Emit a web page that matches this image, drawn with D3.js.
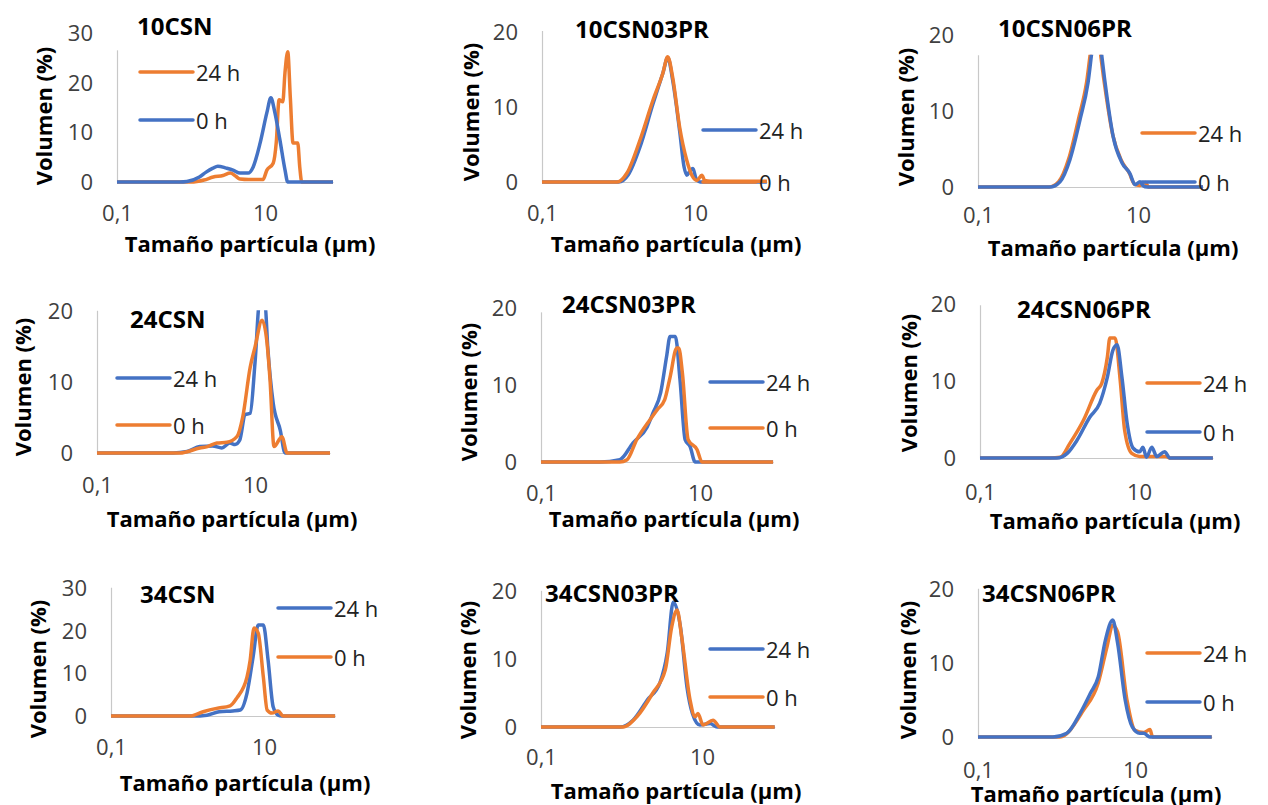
<!DOCTYPE html>
<html>
<head>
<meta charset="utf-8">
<script src="https://cdn.jsdelivr.net/npm/d3@7"></script>
<style>
  body { margin: 0; background: #fff; }
  text { font-family: "Open Sans", "DejaVu Sans", sans-serif; }
</style>
</head>
<body>
<div id="chart"></div>
<script>
// particle size (um) vs volume (%)
const csn10_24h = [[0.1,0],[1.0,0],[1.5,0.4],[2.0,1.0],[2.7,1.3],[3.4,1.8],[4.0,1.2],[4.6,0.6],[6,0.5],[9.4,0.5],[10.6,2.4],[12.9,3.8],[14.2,8],[15.5,16.6],[17.4,16.2],[18.6,22],[20.3,26.3],[22,17],[23.9,7.9],[27.7,7.9],[29.5,3],[31.4,0],[83,0]];
const csn10_0h = [[0.1,0],[0.71,0],[0.88,0.1],[1.3,1.0],[1.6,2.0],[1.98,2.8],[2.3,3.2],[3.0,2.8],[3.7,2.4],[4.6,1.8],[5.9,1.8],[6.9,3.0],[8.6,7.9],[10.6,14],[12.0,17.0],[13.6,14],[15.9,8.5],[18.6,2.5],[20.3,0],[83,0]];

const csn10pr03_24h = [[0.1,0],[1.0,0],[1.35,1.0],[1.9,4.6],[2.8,10.3],[3.8,14.5],[4.4,16.6],[5.1,13.6],[6.3,6.8],[7.2,2.0],[7.8,0.9],[8.6,1.5],[9.4,1.8],[10.3,0.5],[11.7,0],[87,0]];
const csn10pr03_0h = [[0.1,0],[0.96,0],[1.29,1.2],[1.91,5.6],[2.82,10.9],[3.8,14.5],[4.4,16.7],[5.1,14.0],[6.3,7.3],[7.8,2.9],[9.2,0.8],[10.6,0.2],[12.3,0.9],[13.4,0.2],[16,0.1],[87,0.1]];

const csn10pr06_24h = [[0.1,0],[0.77,0],[1.02,0.7],[1.36,3.7],[1.8,8.9],[2.28,13.8],[2.65,19],[2.9,21],[3.2,20],[3.45,17],[4.0,12],[4.8,7],[6.2,3.5],[7.8,1.8],[9.0,0.4],[10.5,0.2],[12.4,0.6],[13.5,0],[65,0]];
const csn10pr06_0h = [[0.1,0],[0.79,0],[1.06,0.7],[1.41,3.6],[1.88,8.8],[2.37,13.7],[2.75,19],[3.0,21],[3.3,20],[3.55,17],[4.1,11.8],[4.9,6.6],[6.3,3.2],[7.9,1.8],[9.2,0.3],[10.6,0.7],[11.5,0.2],[13,0],[65,0]];

const csn24_24h = [[0.1,0],[0.92,0],[1.38,0.2],[2.0,0.9],[2.9,1.0],[3.8,0.7],[4.8,1.4],[5.6,1.2],[6.4,1.8],[7.5,5.4],[8.7,5.6],[10,12.7],[11.5,21.5],[13.4,21],[14.5,14.9],[17,7.0],[20.9,3.2],[24,0],[89,0]];
const csn24_0h = [[0.1,0],[1.12,0],[2.0,0.7],[2.5,0.9],[3.3,1.4],[4.4,1.5],[5.9,2.3],[7.0,5.1],[8.7,12.1],[10,14.9],[12.3,18.7],[14.2,15.5],[15.5,10.3],[17.4,0.9],[21.9,2.3],[25.5,0],[89,0]];

const csn24pr03_24h = [[0.1,0],[0.55,0],[0.98,0.3],[1.44,2.5],[2.15,4.5],[2.57,6.4],[3.2,9.0],[3.8,13.7],[4.2,16.3],[4.9,16.3],[5.6,10.7],[6.5,2.9],[7.5,2.0],[8.7,0],[83,0]];
const csn24pr03_0h = [[0.1,0],[0.98,0],[1.21,0.3],[1.6,2.9],[2.35,5.5],[2.9,6.8],[3.6,8.1],[4.2,11.0],[5.1,14.8],[5.4,14.8],[6.0,11.6],[7.1,2.9],[9.2,1.6],[10.6,0],[83,0]];

const csn24pr06_24h = [[0.1,0],[0.76,0],[1.02,0.1],[1.35,1.9],[2.0,4.9],[2.95,8.8],[3.4,9.7],[4.0,13.1],[4.3,15.6],[5.0,15.6],[5.8,10.1],[6.6,3.6],[8.1,0.6],[10.2,0.2],[22,0.2],[24,0],[85,0]];
const csn24pr06_0h = [[0.1,0],[0.93,0],[1.25,0.6],[1.66,2.3],[2.4,5.3],[3.2,7.1],[4.0,10.5],[4.7,14.0],[5.3,14.7],[6.1,10.5],[7.1,4.5],[8.4,1.3],[10.2,0.8],[11.2,1.4],[12.4,0.1],[14.5,1.4],[16.7,0.2],[21,0.8],[24.5,0],[85,0]];

const csn34_24h = [[0.1,0],[1.18,0],[1.8,0.2],[2.6,1.0],[3.9,1.2],[4.9,1.4],[6.0,5.4],[7.2,13.9],[8.4,21.4],[9.8,21.4],[11.3,13.2],[13.2,2.1],[15.3,0.2],[17,0],[85,0]];
const csn34_0h = [[0.1,0],[1.07,0],[1.6,1.0],[2.4,1.8],[3.6,2.4],[4.4,4.2],[6.0,9.2],[6.6,13.2],[7.4,20.7],[8.4,19.5],[9.8,9.2],[11,1.4],[12.7,0.7],[15.3,1.2],[17.8,0],[85,0]];

const csn34pr03_24h = [[0.1,0],[0.96,0],[1.39,1.0],[2.1,4.0],[3.0,6.5],[3.7,10.9],[4.4,18.4],[5.4,14.7],[6.5,5.9],[7.6,2.0],[9.4,0.3],[12.6,0.5],[15.4,0],[80,0]];
const csn34pr03_0h = [[0.1,0],[1.04,0],[1.55,1.5],[2.45,5.0],[3.5,8.4],[4.2,14.7],[4.9,17.2],[5.6,13.2],[7.1,4.0],[8.2,1.5],[8.9,2.0],[10.3,0.3],[13.7,1.0],[16.7,0],[80,0]];

const csn34pr06_24h = [[0.1,0],[1.1,0],[2.2,3.6],[3.4,7.3],[4.4,12.2],[5.2,15.1],[6.0,14.2],[7.9,5.0],[10,0.9],[12.9,0.6],[15.5,1.0],[16.8,0],[95,0]];
const csn34pr06_0h = [[0.1,0],[0.9,0],[1.35,0.5],[2.0,3.2],[2.7,5.9],[3.4,8.1],[4.2,13.1],[5.2,15.8],[6.0,12.7],[7.5,5.0],[9.2,1.4],[11.5,0.5],[12.9,0.5],[15.5,0],[95,0]];

const titles = ["10CSN", "10CSN03PR", "10CSN06PR", "24CSN", "24CSN03PR", "24CSN06PR", "34CSN", "34CSN03PR", "34CSN06PR"];
const series24h = [csn10_24h, csn10pr03_24h, csn10pr06_24h, csn24_24h, csn24pr03_24h, csn24pr06_24h, csn34_24h, csn34pr03_24h, csn34pr06_24h];
const series0h = [csn10_0h, csn10pr03_0h, csn10pr06_0h, csn24_0h, csn24pr03_0h, csn24pr06_0h, csn34_0h, csn34pr03_0h, csn34pr06_0h];
const yTicks = [[0,10,20,30],[0,10,20],[0,10,20],[0,10,20],[0,10,20],[0,10,20],[0,10,20,30],[0,10,20],[0,10,20]];
const xTicks = [0.1, 10];
const legendNames = ["24 h", "0 h"];
// which colour the 24 h series takes in each panel
const orange24 = [true, false, true, false, false, true, false, false, true];

const BLUE = "#4472c4", ORANGE = "#ed7d31";

// panel geometry in page pixels
// x0: x of 0,1 ; dec: px per decade ; zero: y of 0 ; ppu: px per % ; top: highest % shown ; xEnd: last size
const layout = [
  { x0: 117, dec: 74,   zero: 182, ppu: 4.95, top: 26.7, xEnd: 83, tx: 137, ty: 25,  xtx: 250,  xty: 243, ytx: 43,  yty: 116, lx: 140,  l1: 72,  l2: 120, lab: 36 },
  { x0: 542, dec: 76.5, zero: 182, ppu: 7.5,  top: 20.2, xEnd: 87, tx: 575, ty: 28,  xtx: 676,  xty: 243, ytx: 470, yty: 112, lx: 703,  l1: 130, l2: 182, lab: 36 },
  { x0: 978, dec: 80,   zero: 187, ppu: 7.6,  top: 17.4, xEnd: 65, tx: 998, ty: 27,  xtx: 1113, xty: 247, ytx: 905, yty: 117, lx: 1142, l1: 133, l2: 182, lab: 33 },
  { x0: 97,  dec: 79,   zero: 453, ppu: 7.1,  top: 20.1, xEnd: 89, tx: 130, ty: 318, xtx: 232,  xty: 518, ytx: 22,  yty: 387, lx: 117,  l1: 378, l2: 425, lab: 37 },
  { x0: 541, dec: 79.5, zero: 462, ppu: 7.7,  top: 19.5, xEnd: 83, tx: 562, ty: 303, xtx: 674,  xty: 518, ytx: 468, yty: 392, lx: 710,  l1: 382, l2: 428, lab: 36 },
  { x0: 980, dec: 79.5, zero: 458, ppu: 7.7,  top: 19.9, xEnd: 85, tx: 1017, ty: 308, xtx: 1115, xty: 520, ytx: 908, yty: 383, lx: 1147, l1: 383, l2: 432, lab: 39 },
  { x0: 111, dec: 76.5, zero: 716, ppu: 4.25, top: 30.3, xEnd: 85, tx: 140, ty: 593, xtx: 245,  xty: 782, ytx: 37,  yty: 669, lx: 278,  l1: 608, l2: 657, lab: 36 },
  { x0: 541, dec: 80.5, zero: 727, ppu: 6.8,  top: 20.1, xEnd: 80, tx: 545, ty: 592, xtx: 676,  xty: 790, ytx: 467, yty: 670, lx: 710,  l1: 649, l2: 697, lab: 35 },
  { x0: 978, dec: 78.5, zero: 737, ppu: 7.4,  top: 20.1, xEnd: 95, tx: 982, ty: 592, xtx: 1096, xty: 793, ytx: 907, yty: 670, lx: 1147, l1: 653, l2: 702, lab: 38 }
];

const svg = d3.select("#chart").append("svg")
  .attr("width", 1268)
  .attr("height", 805);

titles.forEach(function (title, i) {
  const L = layout[i];
  const g = svg.append("g");

  const x = d3.scaleLog()
    .domain([0.1, L.xEnd])
    .range([L.x0, L.x0 + L.dec * Math.log10(L.xEnd / 0.1)]);
  const y = d3.scaleLinear()
    .domain([0, L.top])
    .range([L.zero, L.zero - L.top * L.ppu]);

  // axes
  const yAxis = g.append("g")
    .attr("transform", `translate(${L.x0},0)`)
    .call(d3.axisLeft(y).tickValues(yTicks[i]).tickSize(0).tickPadding(24));
  const xAxis = g.append("g")
    .attr("transform", `translate(0,${L.zero})`)
    .call(d3.axisBottom(x).tickValues(xTicks).tickSize(0).tickPadding(L.lab - 13)
      .tickFormat(d => String(d).replace(".", ",")));
  [yAxis, xAxis].forEach(a => {
    a.select(".domain").attr("stroke", "#c8c8c8").attr("stroke-width", 1.2);
    a.selectAll("text").attr("fill", "#404040").style("font-size", "22px").style("font-family", "Open Sans");
  });

  // plot area clip
  const clipId = "clip" + i;
  g.append("clipPath").attr("id", clipId)
    .append("rect")
    .attr("x", L.x0).attr("y", y(L.top))
    .attr("width", x(L.xEnd) - L.x0 + 4).attr("height", L.zero - y(L.top) + 6);

  const line = d3.line()
    .x(d => x(d[0]))
    .y(d => y(d[1]))
    .curve(d3.curveMonotoneX);

  const c24 = orange24[i] ? ORANGE : BLUE;
  const c0 = orange24[i] ? BLUE : ORANGE;

  const plot = g.append("g").attr("clip-path", `url(#${clipId})`);
  plot.append("path").datum(series24h[i])
    .attr("d", line).attr("fill", "none")
    .attr("stroke", c24).attr("stroke-width", 3.5).attr("stroke-linejoin", "round");
  plot.append("path").datum(series0h[i])
    .attr("d", line).attr("fill", "none")
    .attr("stroke", c0).attr("stroke-width", 3.5).attr("stroke-linejoin", "round");

  // legend
  [[c24, L.l1], [c0, L.l2]].forEach(function (e, k) {
    g.append("line")
      .attr("x1", L.lx).attr("x2", L.lx + 53)
      .attr("y1", e[1]).attr("y2", e[1])
      .attr("stroke", e[0]).attr("stroke-width", 3.5).attr("stroke-linecap", "round");
    g.append("text")
      .attr("x", L.lx + 56).attr("y", e[1])
      .attr("dominant-baseline", "central")
      .style("font-size", "22px").attr("fill", "#222")
      .text(legendNames[k]);
  });

  // titles
  g.append("text")
    .attr("x", L.tx).attr("y", L.ty)
    .attr("dominant-baseline", "central")
    .style("font-size", "24px").style("font-weight", "bold")
    .text(title);
  g.append("text")
    .attr("x", L.xtx).attr("y", L.xty)
    .attr("text-anchor", "middle").attr("dominant-baseline", "central")
    .style("font-size", "22px").style("font-weight", "bold")
    .text("Tamaño partícula (µm)");
  g.append("text")
    .attr("transform", `translate(${L.ytx},${L.yty}) rotate(-90)`)
    .attr("text-anchor", "middle").attr("dominant-baseline", "central")
    .style("font-size", "22px").style("font-weight", "bold")
    .text("Volumen (%)");
});
</script>
</body>
</html>
